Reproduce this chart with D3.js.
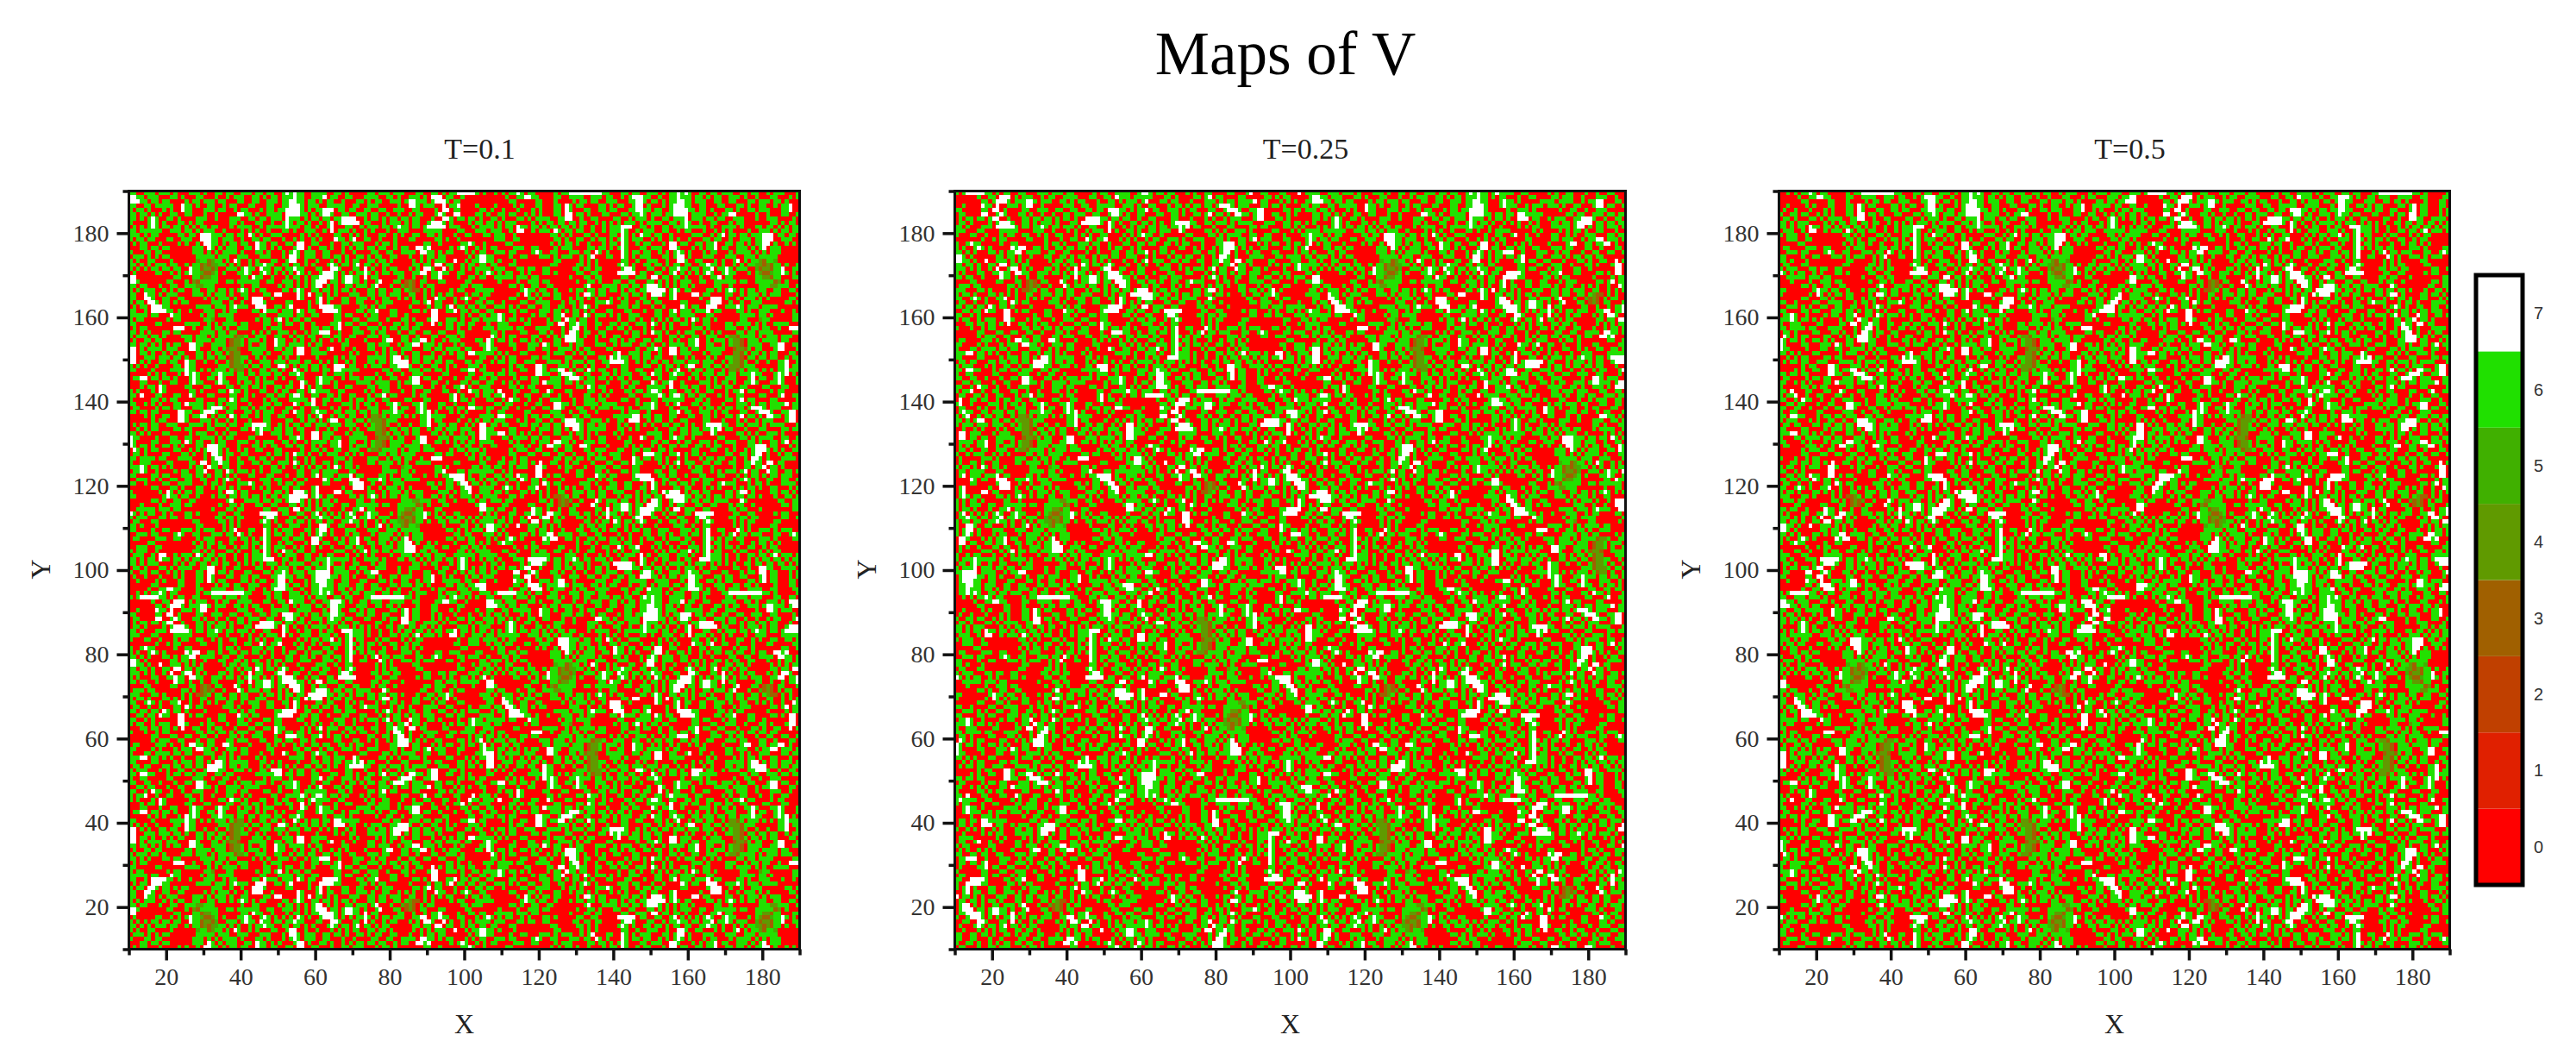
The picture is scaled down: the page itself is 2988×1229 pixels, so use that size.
<!DOCTYPE html>
<html lang="en">
<head>
  <meta charset="utf-8">
  <title>Maps of V</title>
  <script src="https://cdn.jsdelivr.net/npm/d3@7"></script>
  <style>
    html, body { margin: 0; background: #fff; }
    text { font-family: "Liberation Serif", serif; }
  </style>
</head>
<body>
<div id="chart"></div>
<script>

const w = 2988;
const h = 1229;

const panelTitles = ["T=0.1", "T=0.25", "T=0.5"];
const panelLefts = [149.5, 1107.5, 2063.5];
const levels = [0, 1, 2, 3, 4, 5, 6, 7];
const levelColors = ["#ff0000", "#e02000", "#c04000", "#a06000", "#609a00", "#40b000", "#20e000", "#ffffff"];
const majorTicks = [20, 40, 60, 80, 100, 120, 140, 160, 180];
const minorTicks = [10, 30, 50, 70, 90, 110, 130, 150, 170, 190];

// Patches estimated by eye from the top left corner of each map, 48 x 48 cells.
// The full maps are 180 x 180 and were NOT transcribed: only these corners come
// from the picture, every other cell is reused patch data, see cellValue below.
const patchT01 = [
"660066606660600066606006606600666066066006767660",
"776606660006606000660006006066600660606606667660",
"777660660660000606606660660006600660066606677660",
"660066066666007660600660060660006600066006677760",
"606606000606007660006660660060660006066066777760",
"660660606006600660006006000007766060066660777766",
"660606760066060000666006000666006606606660766606",
"600006760600066060660000000660600066006006760660",
"060606760660660606066066000606666006066666766606",
"660666666006660660606660060000606060060006606006",
"666060660000066066077766606606607606006660000060",
"606606600066006660077766066600600660660006006060",
"060660006000060600607766060660660076606600660770",
"000660660660000006660760606660066076606060006770",
"600066066000000006660606066660600066060006067606",
"066606060660000000666660666006660006660006077606",
"606006600006000000566346606076006060006600677006",
"660606066606600606634345660606006066766006606606",
"606060660660660076634435006660676607660660667660",
"060000066006060676653346060006676006760606060760",
"770000000000660006634466000000660766006000606606",
"776000000066000604366666006606666660066006660606",
"660660006006600666446660000000600660000060660606",
"606066600606066006600660660606760606600006606760",
"660076606066600006660606660600660000660770000760",
"660077600660066000006060666060060777006000000760",
"606607760660606600000066600600600777600000660000",
"060660777660000000666606660676660077700660670000",
"660060777766060060006660060660000660766606660760",
"666660660007660000060660666600000006600066660660",
"606600000060660000006640006600000060660670606606",
"660000066000000666600606066660660000660060660060",
"060660000000777006006606606006660000606660000060",
"660606000660660000066660660660000606060066606006",
"606660660600006660666060666634460066600660060660",
"060066066000000660666606660344606660600766006060",
"660660606060660077660066660344606006600766066660",
"770606666066600077600066063443006666600660660770",
"770660600606066000660606606344000666060006660770",
"770066606660660600660660660344660060600060600600",
"770606006606600766006006006344606006660666066606",
"606060060000660766000000666344460660660077606066",
"660000600006666766060606660634406006606606007606",
"000006060600060767600066766606606606660660066760",
"066770660660600067600660760006660060600606000660",
"000660006006600067660006766006066060666000060076",
"000606607600000660006600006600660660600660660070",
"606000607600000066060000660766060006600606600660"
];
const patchT025 = [
"606777776606066006600066606660660000060660066660",
"000000600660777060666006066006666000660066076660",
"000000066067776066677606660066060660006006606066",
"006000076607006660677006000006660066006666600666",
"660000066077060000660066600660066006606607776606",
"066000077006760006606006006006606660066006776060",
"060660660677006000660660660606606007777660660660",
"066060000606777600660606660600066077777607606006",
"660600066607777760660667606606660600660007600606",
"666000660000666660000666006000606006066607060066",
"600066006000606600660060600660006060600660000606",
"000000060060660000066000600060066007606670006060",
"600676600000600660000000606606000666066006000660",
"606006760600000767700660600660660660606006066006",
"660606000660606677066660066006600006006000660066",
"776060000006606606006000660066060660060660660066",
"776606007006660606060000060660660066060606000600",
"660660600660770660660000006606066076066067600060",
"666060600607006770606000660600607066000677006600",
"606000660066766077660066606606067660606067776006",
"660660060000766060060066000006607066776067777660",
"000066000006600066034306600076006066776066077760",
"066606600000006606034350060007606660660060607760",
"666000660600006060334606600660660006066060660660",
"606606000660606060066006660660660066600060606607",
"660067606006670060060606006600606660066006607600",
"066006006000660760660000066606000660066000607606",
"660660660760660600006000000660606600000667777006",
"006606607660077060660000660007660660000677770066",
"660060600000077000000600660006606000660660000660",
"606600606660077600060660006006660066000660000006",
"000660660660607006600606600060006600660766000060",
"600060060660000000660660660606660066000760660660",
"000000660006600660066006000660600666000600777660",
"000000606660066000600660006606660006600660660066",
"066000066606006077660660077600006000060606006060",
"660000606000606660776606006660660000066000006606",
"600066066660660660006660060600660006006007600660",
"666770660606006000660060660606000060600000066660",
"660000660000606660660607760666660006606060000600",
"066066000660660660660777760660660006060060606006",
"606660006060066006006777660066606006607770060660",
"660776600060660660666006606600000066666770660660",
"600660000066000006660060066006000000606660060000",
"660066006000600660776000660060666066606006667600",
"006606600060066000776606006666066660000060667600",
"660060766006006006660006006660660000660060006606",
"606670060066000660060060006600606000006600666676"
];
const patchT05 = [
"006060667606600000606677777777766000660660066606",
"000006006677660000660066660066606600606777660060",
"000000660000066000600006066066006660006677606606",
"006000060600066000660760660000660606600677060006",
"060060006000606000660760006600660660006677660660",
"600660660060606000660770660600066000660667606660",
"066060006606066660066770060066000066006066606006",
"660606660000606066066066066006060606066606066660",
"660606607660660606606606060060060666777006606006",
"066600607700606660760660660060060666760060666006",
"606660060000000006606060006606000660760607660660",
"006660066000000000660600660060660606760666006060",
"000006600000000006060660600600060660760060660006",
"066000066600660000606660000660660606760006606660",
"006660660000676006600066606607606000760660660060",
"660000600660006660606660060670006600760606660006",
"660600060000000000660000060606000000660060066600",
"066000660000000006600000660606000006760600660660",
"606660006606600660000006606606600000677600066006",
"760606600606000660600000660066000007777706600660",
"006666606660660000000060006606600000660066607706",
"000600006006660660000000600660600066006600066060",
"000000660600660066000000006700066660660660677760",
"660000000676606600600060660660660660606606677777",
"600000006076060660660000607760660000660660607776",
"000000660006606000660060660606000606060006606600",
"660060000660066660006066060006667600660060660660",
"006660606006600660066006067606000006660660006006",
"660000660660006660660606606060006600066000600660",
"066760060000606600667006607606660606006660000660",
"666760660606000060660766066006000006006606006060",
"600666000066000066077066766006600660660066607606",
"660666606600066660006067706006006606606000606006",
"066060000660006606006077606600660000060660607660",
"076060660000660060606777606006060066000660000060",
"760660600660606000660777660006000660606600660660",
"760000660006660760660060660006660060666006606006",
"766000060006600660066660606600006600000060066760",
"660606000660000060666006060660000067006660660060",
"006060660000660660000660006000660767660660660660",
"060660660066600066660606660660066777760060606606",
"000000606600077600066606006060006000660000660060",
"000060600660077606677060660760660060660066000660",
"660660660000077660067776006600066060666006607660",
"066000060660660006660677760660660606606000660060",
"660060606000660766660660606660006000660660007606",
"600000660606600000660000660760660000606600066666",
"660700066000660076000660000660060600066066067760"
];
const patches = [patchT01, patchT025, patchT05];

// each panel shows its own patch in the corner, the remaining blocks reuse
// the three patches, mirrored in turn so the repeat is less obvious.
// Cells outside the corners are therefore not values read at that position.
function cellValue(panel, col, row) {
  const blockCol = Math.floor(col / 48);
  const blockRow = Math.floor(row / 48);
  const patch = patches[(panel + blockCol + 2 * blockRow) % 3];
  const flipCol = (blockCol + blockRow * panel) % 2 === 1;
  const flipRow = (blockRow + blockCol * panel) % 2 === 1;
  const r = flipRow ? 47 - row % 48 : row % 48;
  const c = flipCol ? 47 - col % 48 : col % 48;
  const line = patch[r];
  return +line[c % line.length];
}

const svg = d3.select("#chart")
  .append("svg")
  .attr("width", w)
  .attr("height", h);

// the reference is a slightly soft upscaled image
const defs = svg.append("defs");
defs.append("filter")
  .attr("id", "soft")
  .attr("x", 0).attr("y", 0).attr("width", 1).attr("height", 1)
  .append("feGaussianBlur")
  .attr("stdDeviation", 0.7);

svg.append("text")
  .attr("x", 1491)
  .attr("y", 86)
  .attr("text-anchor", "middle")
  .attr("font-size", 71)
  .text("Maps of V");

const color = d3.scaleOrdinal().domain(levels).range(levelColors);
const y = d3.scaleLinear().domain([10, 190]).range([1100.5, 221.5]);

panelLefts.forEach((left, panel) => {
  const x = d3.scaleLinear().domain([10, 190]).range([left, left + 778]);
  const g = svg.append("g");

  // one path per level, 97200 separate rects would be slow
  const paths = levels.map(() => d3.path());
  for (let row = 0; row < 180; row++) {
    for (let col = 0; col < 180; col++) {
      const v = cellValue(panel, col, row);
      const x0 = x(10 + col);
      const y0 = y(190 - row);
      paths[v].rect(x0, y0, x(11 + col) - x0, y(189 - row) - y0);
    }
  }
  g.append("g")
    .attr("filter", "url(#soft)")
    .selectAll("path.cells")
    .data(levels)
    .enter()
    .append("path")
    .attr("class", "cells")
    .attr("fill", d => color(d))
    .attr("shape-rendering", "crispEdges")
    .attr("d", d => paths[d].toString());

  // frame
  g.append("rect")
    .attr("x", x(10))
    .attr("y", y(190))
    .attr("width", x(190) - x(10))
    .attr("height", y(10) - y(190))
    .attr("fill", "none")
    .attr("stroke", "#111")
    .attr("stroke-width", 3);

  const styleAxis = sel => {
    sel.select(".domain").remove();
    sel.selectAll("line").attr("stroke", "#111").attr("stroke-width", 3.5);
    sel.selectAll("text")
      .attr("font-size", 28)
      .attr("fill", "#333")
      .style("font-family", '"Liberation Serif", serif');
  };

  g.append("g")
    .attr("transform", `translate(0,${y(10)})`)
    .call(d3.axisBottom(x).tickValues(majorTicks).tickSize(13).tickPadding(9).tickFormat(d3.format("d")))
    .call(styleAxis);
  g.append("g")
    .attr("transform", `translate(0,${y(10)})`)
    .call(d3.axisBottom(x).tickValues(minorTicks).tickSize(7).tickFormat(""))
    .call(styleAxis);
  g.append("g")
    .attr("transform", `translate(${x(10)},0)`)
    .call(d3.axisLeft(y).tickValues(majorTicks).tickSize(14).tickPadding(9).tickFormat(d3.format("d")))
    .call(styleAxis);
  g.append("g")
    .attr("transform", `translate(${x(10)},0)`)
    .call(d3.axisLeft(y).tickValues(minorTicks).tickSize(7).tickFormat(""))
    .call(styleAxis);

  g.append("text")
    .attr("x", x(100) + 18)
    .attr("y", 184)
    .attr("text-anchor", "middle")
    .attr("font-size", 34)
    .attr("fill", "#222")
    .text(panelTitles[panel]);

  g.append("text")
    .attr("x", x(100))
    .attr("y", 1198)
    .attr("text-anchor", "middle")
    .attr("font-size", 32)
    .attr("fill", "#222")
    .text("X");

  g.append("text")
    .attr("transform", `translate(${left - 92},660) rotate(-90)`)
    .attr("text-anchor", "middle")
    .attr("font-size", 32)
    .attr("fill", "#222")
    .text("Y");
});

// colour bar
const barY = d3.scaleBand().domain(levels).range([1026, 319]);
const bar = svg.append("g");
bar.selectAll("rect.level")
  .data(levels)
  .enter()
  .append("rect")
  .attr("class", "level")
  .attr("x", 2872)
  .attr("y", d => barY(d))
  .attr("width", 54)
  .attr("height", barY.bandwidth())
  .attr("fill", d => color(d));
bar.append("rect")
  .attr("x", 2872)
  .attr("y", 319)
  .attr("width", 54)
  .attr("height", 707)
  .attr("fill", "none")
  .attr("stroke", "#000")
  .attr("stroke-width", 5);
bar.selectAll("text")
  .data(levels)
  .enter()
  .append("text")
  .attr("x", 2939)
  .attr("y", d => barY(d) + barY.bandwidth() / 2)
  .attr("dy", "0.35em")
  .attr("font-size", 20)
  .attr("fill", "#333")
  .style("font-family", '"Liberation Sans", sans-serif')
  .text(d => d);

</script>
</body>
</html>
